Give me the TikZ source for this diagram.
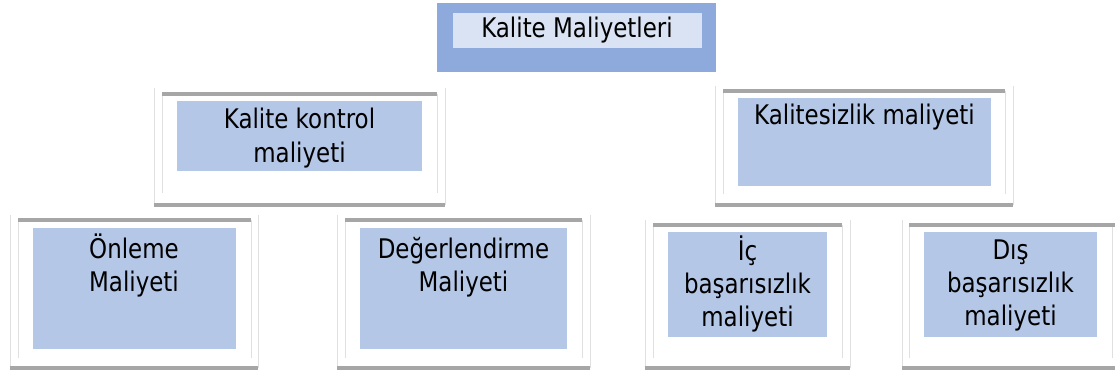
\documentclass[tikz,border=0pt]{standalone}
\usepackage{fontspec}
\setmainfont{DejaVu Sans}[FakeStretch=0.85]
\usepackage{xcolor}
\usetikzlibrary{positioning}

\definecolor{headblue}{HTML}{8EA9DB}
\definecolor{headpale}{HTML}{DAE3F3}
\definecolor{boxblue}{HTML}{B4C7E7}
\definecolor{rulegray}{HTML}{A6A6A6}
\definecolor{edgegray}{HTML}{E0E0E0}

\tikzset{
  edgeline/.style={draw=edgegray, line width=0.8pt},
  shadeline/.style={draw=rulegray, line width=4pt},
  costtext/.style={font=\fontsize{27}{33}\selectfont, align=center, inner sep=0pt},
}

\begin{document}
\begin{tikzpicture}[x=1pt,y=-1pt]
            \useasboundingbox (0,0) rectangle (1115,372);
            % head
            \fill[headblue] (437,3) rectangle (716,72);
            \fill[headpale] (453,13) rectangle (702,48);
            \node[costtext] (head) at (577,30.5) {Kalite Maliyetleri};
            % Kalite kontrol maliyeti
            \draw[edgeline] (154,88) -- (154,205) (445,88) -- (445,205) (162,94) -- (162,193) (437,94) -- (437,193);
            \draw[shadeline] (162,94) -- (437,94);
            \draw[shadeline] (154,205) -- (445,205);
            \fill[boxblue] (177,101) rectangle (422,171);
            \node[costtext, font=\fontsize{27}{34}\selectfont] (kontrol) at (299.5,138.5) {Kalite kontrol\\maliyeti};
            % Kalitesizlik maliyeti
            \draw[edgeline] (715,86) -- (715,205) (1013,86) -- (1013,205) (723,91) -- (723,194) (1005,91) -- (1005,194);
            \draw[shadeline] (723,91) -- (1005,91);
            \draw[shadeline] (715,205) -- (1013,205);
            \fill[boxblue] (738,98) rectangle (991,186);
            \node[costtext, anchor=north] (kalitesizlik) at (864.5,103.5) {Kalitesizlik maliyeti};
            % Onleme
            \draw[edgeline] (10,215) -- (10,368) (258,215) -- (258,368) (18,220) -- (18,358) (251,220) -- (251,358);
            \draw[shadeline] (18,220) -- (251,220);
            \draw[shadeline] (10,368) -- (258,368);
            \fill[boxblue] (33,228) rectangle (236,349);
            \node[costtext, anchor=north] (onleme) at (134,234) {Önleme\\Maliyeti};
            % Degerlendirme
            \draw[edgeline] (337,215) -- (337,368) (590,215) -- (590,368) (345,220) -- (345,358) (582,220) -- (582,358);
            \draw[shadeline] (345,220) -- (582,220);
            \draw[shadeline] (337,368) -- (590,368);
            \fill[boxblue] (360,228) rectangle (567,349);
            \node[costtext, anchor=north] (degerlendirme) at (463.5,237.5) {Değerlendirme\\Maliyeti};
            % Ic basarisizlik
            \draw[edgeline] (645,220) -- (645,368) (850,220) -- (850,368) (653,225) -- (653,358) (842,225) -- (842,358);
            \draw[shadeline] (653,225) -- (842,225);
            \draw[shadeline] (645,368) -- (850,368);
            \fill[boxblue] (668,232) rectangle (827,337);
            \node[costtext, anchor=north] (ic) at (747.5,236) {İç\\başarısızlık\\maliyeti};
            % Dis basarisizlik
            \draw[edgeline] (902,220) -- (902,368) (909,225) -- (909,358) (1112,225) -- (1112,358);
            \draw[shadeline] (909,225) -- (1120,225);
            \draw[shadeline] (902,368) -- (1120,368);
            \fill[boxblue] (924,232) rectangle (1097,337);
            \node[costtext, anchor=north] (dis) at (1010.5,240) {Dış\\başarısızlık\\maliyeti};
        \end{tikzpicture}
\end{document}
